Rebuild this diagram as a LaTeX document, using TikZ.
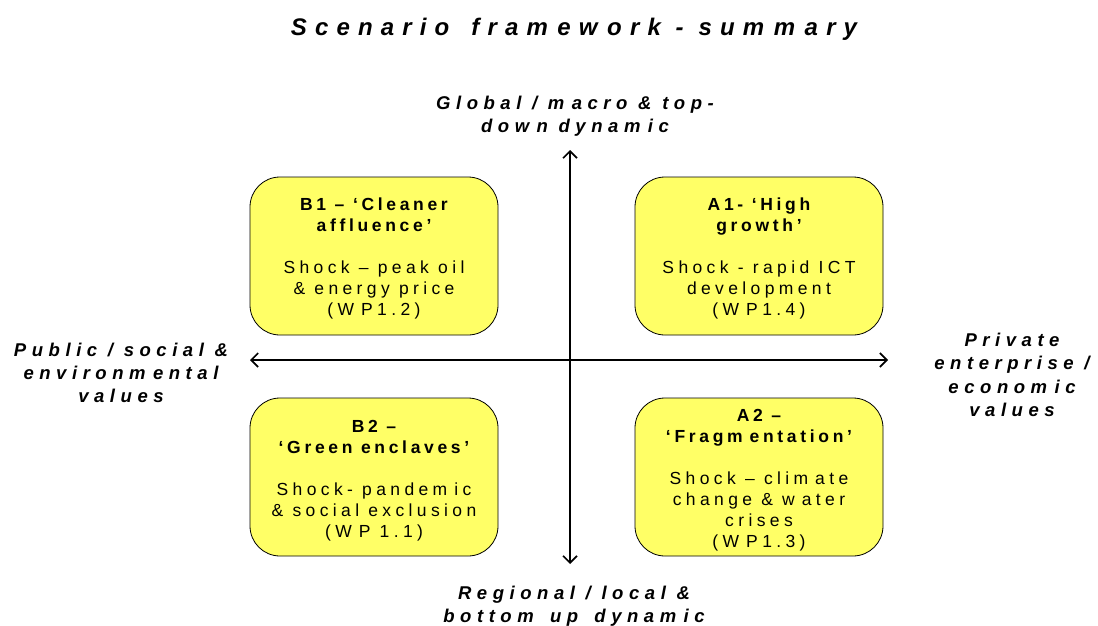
\documentclass[tikz,border=0pt]{standalone}
\usepackage{fontspec}
\setmainfont{Liberation Sans}
\usetikzlibrary{arrows.meta}
\definecolor{boxyellow}{RGB}{255,255,102}
\newcommand\mgap{\hspace{0.4em}}
\newcommand\wgap{\hspace{0.3em}}
\newcommand\bt{\bfseries\addfontfeature{LetterSpace=21}}
\tikzset{
  scen/.style={draw=black, line width=0.8pt, fill=boxyellow, rounded corners=30pt,
    minimum width=248pt, minimum height=158pt},
  scentext/.style={align=center, inner sep=0pt,
    font=\fontsize{17.5}{21}\selectfont\addfontfeature{LetterSpace=25}},
  axislbl/.style={align=center, font=\fontsize{18.5}{23.3}\selectfont\bfseries\itshape\addfontfeature{LetterSpace=30}},
  titlelbl/.style={font=\fontsize{24}{28}\selectfont\bfseries\itshape\addfontfeature{LetterSpace=34}},
  axisline/.style={line width=1.6pt, {Straight Barb[length=7pt,width=14pt,line width=1.6pt]}-{Straight Barb[length=7pt,width=14pt,line width=1.6pt]}}
}
\begin{document}
\begin{tikzpicture}[x=1pt,y=-1pt]
\useasboundingbox (0,0) rectangle (1098,626);
\node[titlelbl] (title) at (574,29) {Scenario\wgap{} fram\mgap ew\mgap ork - sum\mgap m\mgap ary};
% axes
\coordinate (top) at (570,150);
\coordinate (bot) at (570,564);
\coordinate (lft) at (250,360);
\coordinate (rgt) at (888,360);
\draw[axisline] (bot) -- (top);
\draw[axisline] (lft) -- (rgt);
% boxes
\node[scen] (b1) at (374,256) {};
\node[scen] (a1) at (759,256) {};
\node[scen] (b2) at (374,477) {};
\node[scen] (a2) at (759,477) {};
\node[scentext] (b1t) at ([yshift=-2.5pt]b1.center) {{\bt B1 – ‘Cleaner}\\{\bt affluence’}\\[21pt]Shock – peak oil\\\& energy price\\(W\mgap P1.2)};
\node[scentext] (a1t) at ([yshift=-2.5pt]a1.center) {{\bt A1- ‘High}\\{\bt growth’}\\[21pt]Shock - rapid ICT\\development\\(W\mgap P1.4)};
\node[scentext] (b2t) at ([yshift=-3.5pt]b2.center) {{\bt B2 –}\\{\bt ‘Green enclaves’}\\[21pt]Shock- pandem\mgap ic\\\& social exclusion\\(W\mgap P 1.1)};
\node[scentext] (a2t) at ([yshift=-3pt]a2.center) {{\bt A2 –}\\{\bt ‘Fragm\mgap entation’}\\[21pt]Shock – clim\mgap ate\\change \& w\mgap ater\\crises\\(W\mgap P1.3)};
% axis labels
\node[axislbl] (toplbl) at (575,116) {Global / m\mgap acro \& top-\\dow\mgap n dynam\mgap ic};
\node[axislbl] (botlbl) at (574,606) {Regional / local \&\\bottom\wgap{} up\wgap{} dynam\mgap ic};
\node[axislbl] (lftlbl) at (121,373) {Public / social \&\\environm\mgap ental\\values};
\node[axislbl] (rgtlbl) at (1012,375) {Private\\enterprise /\\econom\mgap ic\\values};
\end{tikzpicture}
\end{document}
